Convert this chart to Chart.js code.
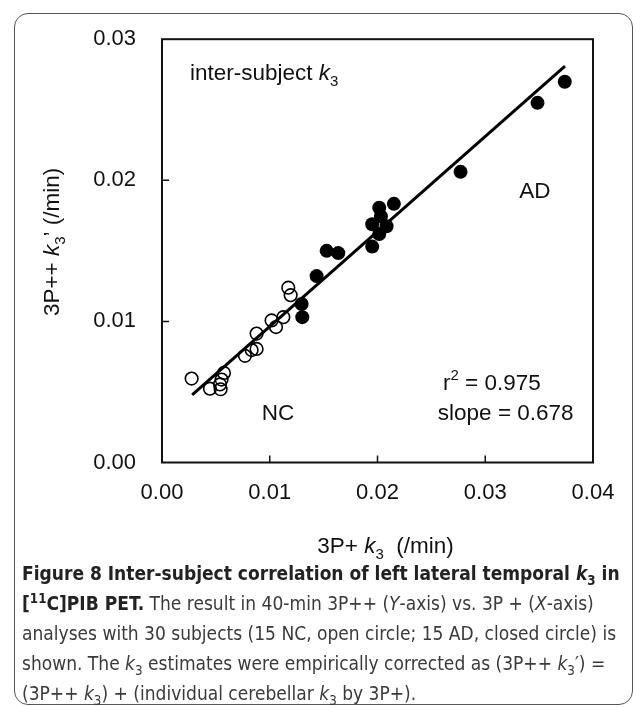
<!DOCTYPE html>
<html>
<head>
<meta charset="utf-8">
<script src="https://cdn.jsdelivr.net/npm/chart.js@4.4.1/dist/chart.umd.min.js"></script>
<style>
  body { margin: 0; background: #fff; width: 633px; height: 707px; overflow: hidden; position: relative; }
  #frame { position: absolute; left: 14px; top: 13px; width: 619px; height: 692px; border: 1.5px solid #555; border-radius: 14px; box-sizing: border-box; }
  #chart { position: absolute; left: 0; top: 0; }
  #caption { position: absolute; left: 22px; top: 558px; font-family: "Liberation Sans Narrow", "DejaVu Sans Condensed", sans-serif; font-size: 21px; line-height: 30px; color: #3a3a3a; white-space: nowrap; }
  #caption b { color: #222; }
  #caption sub, #caption sup { font-size: 70%; line-height: 0; }
</style>
</head>
<body>
<div id="frame"></div>
<canvas id="chart" width="633" height="570"></canvas>
<div id="caption">
  <div><b>Figure 8 Inter-subject correlation of left lateral temporal <i>k</i><sub>3</sub> in</b></div>
  <div><b>[<sup>11</sup>C]PIB PET.</b> The result in 40-min 3P++ (<i>Y</i>-axis) vs. 3P + (<i>X</i>-axis)</div>
  <div id="l3">analyses with 30 subjects (15 NC, open circle; 15 AD, closed circle) is</div>
  <div>shown. The <i>k</i><sub>3</sub> estimates were empirically corrected as (3P++ <i>k</i><sub>3</sub>&prime;) =</div>
  <div>(3P++ <i>k</i><sub>3</sub>) + (individual cerebellar <i>k</i><sub>3</sub> by 3P+).</div>
</div>
<script>
// NC subjects (open circles)
const ncX = [0.00275, 0.00445, 0.00538, 0.00544, 0.00553, 0.00575, 0.0077, 0.00832, 0.00878, 0.00878, 0.01017, 0.01058, 0.01126, 0.01172, 0.01194]
const ncY = [0.00595, 0.00523, 0.00553, 0.00519, 0.00588, 0.00635, 0.00756, 0.00797, 0.00805, 0.00914, 0.01007, 0.0096, 0.0103, 0.01239, 0.01186]
// AD subjects (closed circles)
const adX = [0.01296, 0.01302, 0.01435, 0.01528, 0.01636, 0.01951, 0.01951, 0.02016, 0.02032, 0.02016, 0.02084, 0.02152, 0.02771, 0.03485, 0.03738]
const adY = [0.01123, 0.0103, 0.01321, 0.015, 0.01484, 0.0153, 0.01688, 0.01805, 0.01744, 0.01619, 0.01674, 0.01833, 0.0206, 0.02549, 0.02698]
// regression line ends
const fitX = [0.0028, 0.0374]
const fitY = [0.0048, 0.0281]
const xTickLabels = ['0.00', '0.01', '0.02', '0.03', '0.04']
const yTickLabels = ['0.00', '0.01', '0.02', '0.03']

const FONT = '"Liberation Sans", Arial, sans-serif'
const TXT = 22.5
const toPts = (xs, ys) => xs.map((x, i) => ({ x, y: ys[i] }))

// draw text made of plain / italic / subscript / superscript pieces
const richText = (ctx, parts, x, y, size, align) => {
  const fontFor = p => {
    const s = p.sub || p.sup ? Math.round(size * 0.68) : size
    return (p.it ? 'italic ' : '') + s + 'px ' + FONT
  }
  let w = 0
  parts.forEach(p => { ctx.font = fontFor(p); w += ctx.measureText(p.t).width })
  let cx = align === 'center' ? x - w / 2 : x
  ctx.textBaseline = 'middle'
  ctx.textAlign = 'left'
  parts.forEach(p => {
    ctx.font = fontFor(p)
    const dy = p.sub ? size * 0.35 : p.sup ? -size * 0.38 : 0
    ctx.fillText(p.t, cx, y + dy)
    cx += ctx.measureText(p.t).width
  })
}

const decor = {
  id: 'decor',
  afterDraw(chart) {
    const { ctx, chartArea: a, scales: { x, y } } = chart
    ctx.save()
    ctx.strokeStyle = '#111'
    ctx.lineWidth = 2
    ctx.strokeRect(a.left, a.top, a.right - a.left, a.bottom - a.top)
    ctx.lineWidth = 1.5
    ctx.beginPath()
    ;[0.01, 0.02, 0.03].forEach(v => {
      const px = x.getPixelForValue(v)
      ctx.moveTo(px, a.bottom); ctx.lineTo(px, a.bottom - 7)
    })
    ;[0.01, 0.02].forEach(v => {
      const py = y.getPixelForValue(v)
      ctx.moveTo(a.left, py); ctx.lineTo(a.left + 7, py)
    })
    ctx.stroke()

    ctx.fillStyle = '#111'
    const at = (vx, vy) => [x.getPixelForValue(vx), y.getPixelForValue(vy)]
    let p = at(0.0026, 0.02754)
    richText(ctx, [{ t: 'inter-subject ' }, { t: 'k', it: true }, { t: '3', sub: true }], p[0], p[1], TXT)
    p = at(0.0346, 0.01916)
    richText(ctx, [{ t: 'AD' }], p[0], p[1], TXT, 'center')
    p = at(0.01076, 0.00346)
    richText(ctx, [{ t: 'NC' }], p[0], p[1], TXT, 'center')
    p = at(0.02607, 0.00555)
    richText(ctx, [{ t: 'r' }, { t: '2', sup: true }, { t: ' = 0.975' }], p[0], p[1], TXT)
    p = at(0.0256, 0.00346)
    richText(ctx, [{ t: 'slope = 0.678' }], p[0], p[1], TXT)

    // axis titles
    richText(ctx, [{ t: '3P+ ' }, { t: 'k', it: true }, { t: '3', sub: true }, { t: '  (/min)' }], (a.left + a.right) / 2 + 8, a.bottom + 84, TXT, 'center')
    ctx.translate(53, (a.top + a.bottom) / 2 - 9)
    ctx.rotate(-Math.PI / 2)
    richText(ctx, [{ t: '3P++ ' }, { t: 'k', it: true }, { t: '3', sub: true }, { t: '\u2019 (/min)' }], 0, 0, TXT, 'center')
    ctx.restore()
  }
}

new Chart(document.getElementById('chart'), {
  type: 'scatter',
  data: {
    datasets: [
      {
        type: 'line',
        data: toPts(fitX, fitY),
        borderColor: '#000',
        borderWidth: 3,
        pointRadius: 0,
        order: 3
      },
      {
        data: toPts(ncX, ncY),
        pointRadius: 6.3,
        pointBorderWidth: 1.6,
        pointBorderColor: '#000',
        pointBackgroundColor: 'rgba(0,0,0,0)',
        order: 2
      },
      {
        data: toPts(adX, adY),
        pointRadius: 7,
        pointBorderWidth: 0,
        pointBackgroundColor: '#000',
        order: 1
      }
    ]
  },
  options: {
    responsive: false,
    animation: false,
    layout: { padding: { left: 0, top: 34, right: 40, bottom: 7.5 } },
    plugins: { legend: { display: false }, tooltip: { enabled: false } },
    scales: {
      x: {
        type: 'linear',
        min: 0,
        max: 0.04,
        afterFit: s => { s.height = 100 },
        afterBuildTicks: s => { s.ticks = xTickLabels.map(t => ({ value: Number(t) })) },
        grid: { display: false, drawTicks: false },
        border: { display: false },
        ticks: {
          padding: 17,
          color: '#111',
          font: { family: FONT, size: 22 },
          callback: (v, i) => xTickLabels[i]
        }
      },
      y: {
        type: 'linear',
        min: 0,
        max: 0.03,
        afterFit: s => { s.width = 162 },
        afterBuildTicks: s => { s.ticks = yTickLabels.map(t => ({ value: Number(t) })) },
        grid: { display: false, drawTicks: false },
        border: { display: false },
        ticks: {
          padding: 26,
          color: '#111',
          font: { family: FONT, size: 22 },
          callback: (v, i) => yTickLabels[i]
        }
      }
    }
  },
  plugins: [decor]
})

// fit caption width to the reference (widest line spans about 598px)
const cap = document.getElementById('caption')
const w = document.getElementById('l3').getBoundingClientRect().width
cap.style.fontSize = (21 * 598 / w).toFixed(2) + 'px'
</script>
</body>
</html>
